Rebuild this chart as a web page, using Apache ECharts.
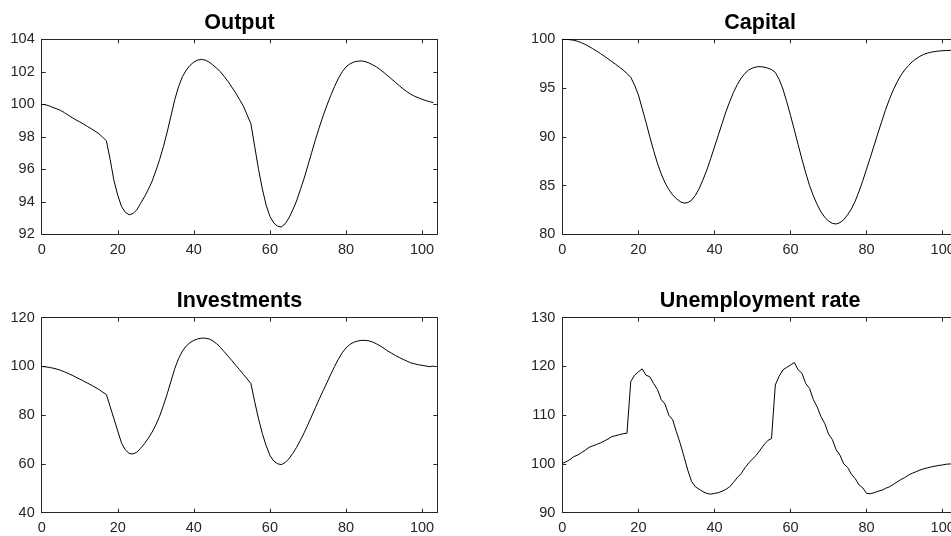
<!DOCTYPE html>
<html>
<head>
<meta charset="utf-8">
<title>Model responses</title>
<script src="https://cdn.jsdelivr.net/npm/echarts@6/dist/echarts.min.js"></script>
<style>
  html, body { margin: 0; padding: 0; background: #ffffff; }
  #chart { width: 951px; height: 536px; }
</style>
</head>
<body>
<div id="chart"></div>
<script>
// Periods 0..103
const periods = [];
for (let t = 0; t <= 103; t++) periods.push(t);

const titles = ['Output', 'Capital', 'Investments', 'Unemployment rate'];

const output = [
  100.0, 99.97, 99.9, 99.8, 99.72, 99.62, 99.48, 99.33, 99.18, 99.04,
  98.92, 98.78, 98.64, 98.5, 98.35, 98.2, 97.98, 97.76, 96.6, 95.3,
  94.4, 93.7, 93.35, 93.2, 93.28, 93.5, 93.9, 94.3, 94.75, 95.25,
  95.9, 96.6, 97.4, 98.3, 99.3, 100.3, 101.1, 101.7, 102.1, 102.4,
  102.6, 102.72, 102.76, 102.72, 102.6, 102.42, 102.22, 102.0, 101.7, 101.4,
  101.05, 100.7, 100.3, 99.9, 99.35, 98.8, 97.4, 96.0, 94.8, 93.8,
  93.1, 92.7, 92.5, 92.45, 92.65, 93.0, 93.5, 94.05, 94.75, 95.45,
  96.25, 97.05, 97.85, 98.6, 99.3, 99.95, 100.55, 101.1, 101.6, 102.0,
  102.3, 102.48, 102.6, 102.65, 102.67, 102.63, 102.55, 102.43, 102.3, 102.13,
  101.95, 101.75, 101.55, 101.35, 101.15, 100.95, 100.78, 100.62, 100.5, 100.4,
  100.31, 100.23, 100.16, 100.1
];

const capital = [
  100.0, 99.99, 99.96, 99.9, 99.8, 99.66, 99.48, 99.27, 99.04, 98.8,
  98.55, 98.28, 98.0, 97.72, 97.44, 97.15, 96.85, 96.5, 96.1, 95.3,
  94.3, 92.9, 91.5, 90.0, 88.6, 87.3, 86.2, 85.3, 84.6, 84.05,
  83.65, 83.35, 83.2, 83.25, 83.5, 84.0, 84.7, 85.6, 86.6, 87.75,
  88.95, 90.15, 91.35, 92.55, 93.6, 94.55, 95.35, 96.0, 96.5, 96.85,
  97.05, 97.17, 97.2, 97.15, 97.05, 96.9, 96.6, 95.9, 94.9, 93.6,
  92.2, 90.7, 89.2, 87.7, 86.3, 85.0, 83.95, 83.05, 82.3, 81.75,
  81.35, 81.12, 81.06, 81.2, 81.5, 82.0, 82.6, 83.4, 84.4, 85.5,
  86.7, 87.9, 89.15, 90.4, 91.6, 92.8, 93.85, 94.8, 95.6, 96.3,
  96.85, 97.3, 97.7, 98.0, 98.25, 98.45, 98.58, 98.68, 98.75, 98.8,
  98.83, 98.85, 98.86, 98.87
];

const investments = [
  100.0, 99.85, 99.6, 99.3, 98.9, 98.4, 97.8, 97.1, 96.4, 95.6,
  94.8, 94.0, 93.2, 92.4, 91.5, 90.6, 89.5, 88.5, 83.5, 78.5,
  73.5, 68.5, 65.8, 64.3, 64.1, 64.8, 66.4, 68.3, 70.5, 73.0,
  76.0, 79.6, 84.0, 88.8, 94.0, 99.2, 103.3, 106.3, 108.4, 109.8,
  110.7, 111.3, 111.6, 111.6, 111.3, 110.5, 109.3, 107.8, 106.0, 104.2,
  102.4, 100.5, 98.7, 96.8, 94.9, 93.0, 85.5, 78.5, 72.5, 67.5,
  63.5, 61.2, 60.1, 59.7, 60.6, 62.1, 64.3, 66.8, 69.7, 72.8,
  76.2, 79.7, 83.2, 86.7, 90.1, 93.4, 96.8, 100.0, 103.0, 105.6,
  107.6, 109.0, 109.9, 110.4, 110.7, 110.7, 110.5, 110.0, 109.3, 108.4,
  107.4, 106.3, 105.4, 104.5, 103.7, 102.9, 102.2, 101.5, 101.1, 100.7,
  100.45, 100.2, 99.9, 100.2
];

const unemployment = [
  100.1, 100.45, 100.9, 101.5, 101.8, 102.3, 102.8, 103.4, 103.7, 104.0,
  104.3, 104.7, 105.1, 105.6, 105.8, 106.0, 106.2, 106.3, 116.9, 118.2,
  118.9, 119.5, 118.2, 117.9, 116.5, 115.3, 113.2, 112.3, 110.0, 109.1,
  106.6, 104.2, 101.5, 98.7, 96.4, 95.3, 94.8, 94.3, 93.96, 93.8,
  93.96, 94.1, 94.4, 94.8, 95.3, 96.2, 97.2, 98.0, 99.2, 100.2,
  101.0, 101.8, 102.85, 103.9, 104.8, 105.2, 116.2, 118.0, 119.3, 119.8,
  120.3, 120.8, 119.3, 118.6, 116.5, 115.5, 113.2, 111.7, 109.7, 108.3,
  106.1, 105.0, 102.9, 101.8, 100.0, 99.3, 97.9, 97.0, 95.7, 95.1,
  93.96, 93.9, 94.1, 94.4, 94.6, 95.0, 95.3, 95.8, 96.3, 96.8,
  97.2, 97.7, 98.1, 98.4, 98.75, 99.0, 99.2, 99.4, 99.55, 99.7,
  99.8, 99.95, 100.0, 100.1
];

const seriesValues = [output, capital, investments, unemployment];

// y-axis ranges and tick steps for each panel
const yMin = [92, 80, 40, 90];
const yMax = [104, 100, 120, 130];
const yStep = [2, 5, 20, 10];

const xMin = 0, xMax = 104, xStep = 20;

// panel boxes (pixels); the right-hand column runs past the canvas edge
const panels = [
  { left: 41.7, top: 39.3, width: 395.6, height: 195 },
  { left: 562.3, top: 39.3, width: 395.6, height: 195 },
  { left: 41.7, top: 317.7, width: 395.6, height: 195 },
  { left: 562.3, top: 317.7, width: 395.6, height: 195 }
];

const FONT = '"Liberation Sans", Arial, Helvetica, sans-serif';
const AXIS_COLOR = '#262626';

const grid = [], xAxis = [], yAxis = [], series = [], title = [];

panels.forEach((p, i) => {
  grid.push({
    left: p.left, top: p.top, width: p.width, height: p.height,
    containLabel: false,
    outerBoundsMode: 'none'
  });

  title.push({
    text: titles[i],
    left: p.left + p.width / 2,
    top: p.top - 27.5,
    textAlign: 'center',
    padding: 0,
    textStyle: { fontFamily: FONT, fontSize: 21.5, fontWeight: 'bold', color: '#000000' }
  });

  const lineStyle = { color: AXIS_COLOR, width: 1 };
  const baseX = {
    gridIndex: i, type: 'value', min: xMin, max: xMax, interval: xStep,
    splitLine: { show: false },
    axisLine: { show: true, onZero: false, lineStyle },
    axisTick: { show: true, inside: true, length: 4, lineStyle }
  };
  xAxis.push(Object.assign({}, baseX, {
    position: 'bottom',
    axisLabel: { show: true, margin: 8, fontFamily: FONT, fontSize: 14.5, color: AXIS_COLOR, showMaxLabel: false }
  }));
  xAxis.push(Object.assign({}, baseX, {
    position: 'top',
    axisLabel: { show: false }
  }));

  const baseY = {
    gridIndex: i, type: 'value', min: yMin[i], max: yMax[i], interval: yStep[i],
    splitLine: { show: false },
    axisLine: { show: true, onZero: false, lineStyle },
    axisTick: { show: true, inside: true, length: 4, lineStyle }
  };
  yAxis.push(Object.assign({}, baseY, {
    position: 'left',
    axisLabel: { show: true, margin: 7, fontFamily: FONT, fontSize: 14.5, color: AXIS_COLOR }
  }));
  yAxis.push(Object.assign({}, baseY, {
    position: 'right',
    axisLabel: { show: false }
  }));

  series.push({
    type: 'line',
    name: titles[i],
    xAxisIndex: i * 2,
    yAxisIndex: i * 2,
    data: periods.map((t, k) => [t, seriesValues[i][k]]),
    showSymbol: false,
    symbol: 'none',
    smooth: false,
    lineStyle: { color: '#000000', width: 1 },
    clip: true
  });
});

const chart = echarts.init(document.getElementById('chart'), null, { renderer: 'canvas' });
chart.setOption({
  animation: false,
  backgroundColor: '#ffffff',
  title, grid, xAxis, yAxis, series
});
</script>
</body>
</html>
